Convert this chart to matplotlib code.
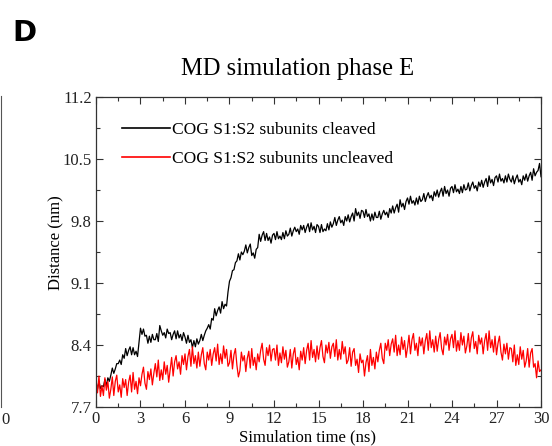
import numpy as np
import matplotlib
matplotlib.use("Agg")
import matplotlib.pyplot as plt
from matplotlib.lines import Line2D
from matplotlib.ticker import MultipleLocator

plt.rcParams["font.family"] = ["Liberation Serif", "DejaVu Serif"]

# time axis: 0 .. 30 ns, one sample every 0.1 ns
time_ns = np.round(np.arange(0, 301) * 0.1, 1)

# COG distance, S1:S2 subunits cleaved (nm) (one row per ns)
cleaved = [
    7.97, 7.90, 7.99, 7.91, 7.94, 7.93, 8.01, 7.94, 8.03, 7.99,
    8.06, 8.14, 8.08, 8.13, 8.19, 8.19, 8.23, 8.18, 8.29, 8.25,
    8.36, 8.28, 8.34, 8.38, 8.29, 8.37, 8.29, 8.33, 8.27, 8.43,
    8.59, 8.52, 8.58, 8.50, 8.51, 8.42, 8.50, 8.43, 8.52, 8.46,
    8.46, 8.53, 8.44, 8.62, 8.56, 8.51, 8.54, 8.48, 8.58, 8.53,
    8.54, 8.46, 8.52, 8.56, 8.47, 8.56, 8.48, 8.52, 8.45, 8.54,
    8.49, 8.42, 8.51, 8.43, 8.46, 8.37, 8.45, 8.38, 8.47, 8.41,
    8.45, 8.52, 8.45, 8.51, 8.56, 8.59, 8.63, 8.58, 8.70, 8.68,
    8.81, 8.73, 8.79, 8.83, 8.76, 8.89, 8.81, 8.86, 8.84, 9.00,
    9.12, 9.16, 9.24, 9.25, 9.33, 9.35, 9.43, 9.36, 9.45, 9.42,
    9.46, 9.53, 9.44, 9.50, 9.54, 9.41, 9.44, 9.38, 9.48, 9.50,
    9.65, 9.57, 9.64, 9.68, 9.58, 9.66, 9.58, 9.62, 9.55, 9.64,
    9.66, 9.59, 9.68, 9.60, 9.63, 9.59, 9.67, 9.60, 9.69, 9.63,
    9.65, 9.72, 9.63, 9.69, 9.73, 9.68, 9.71, 9.65, 9.75, 9.70,
    9.75, 9.67, 9.73, 9.77, 9.68, 9.78, 9.70, 9.74, 9.67, 9.76,
    9.74, 9.67, 9.76, 9.68, 9.71, 9.69, 9.77, 9.70, 9.79, 9.73,
    9.77, 9.84, 9.75, 9.81, 9.85, 9.78, 9.81, 9.75, 9.85, 9.80,
    9.87, 9.79, 9.85, 9.89, 9.80, 9.94, 9.86, 9.90, 9.83, 9.92,
    9.91, 9.84, 9.93, 9.85, 9.88, 9.80, 9.88, 9.81, 9.90, 9.84,
    9.84, 9.91, 9.82, 9.88, 9.92, 9.87, 9.90, 9.84, 9.94, 9.89,
    9.97, 9.89, 9.95, 9.99, 9.90, 10.04, 9.96, 10.00, 9.93, 10.02,
    10.06, 9.99, 10.08, 10.00, 10.03, 9.98, 10.06, 9.99, 10.08, 10.02,
    10.04, 10.11, 10.02, 10.08, 10.12, 10.06, 10.09, 10.03, 10.13, 10.08,
    10.15, 10.07, 10.13, 10.17, 10.08, 10.19, 10.11, 10.15, 10.08, 10.17,
    10.19, 10.12, 10.21, 10.13, 10.16, 10.11, 10.19, 10.12, 10.21, 10.15,
    10.16, 10.23, 10.14, 10.20, 10.24, 10.17, 10.20, 10.14, 10.24, 10.19,
    10.26, 10.18, 10.24, 10.28, 10.19, 10.31, 10.23, 10.27, 10.20, 10.29,
    10.31, 10.24, 10.33, 10.25, 10.28, 10.23, 10.31, 10.24, 10.33, 10.27,
    10.24, 10.31, 10.22, 10.28, 10.32, 10.24, 10.27, 10.21, 10.31, 10.26,
    10.33, 10.25, 10.31, 10.35, 10.26, 10.39, 10.31, 10.35, 10.37, 10.45,
    10.30,
]

# COG distance, S1:S2 subunits uncleaved (nm)
uncleaved = [
    8.01, 7.86, 8.05, 7.82, 7.94, 7.83, 8.03, 7.89, 7.99, 7.80,
    7.90, 8.04, 7.83, 7.99, 8.06, 7.87, 7.95, 7.81, 8.02, 7.92,
    8.01, 7.83, 7.98, 8.06, 7.87, 8.09, 7.90, 7.99, 7.85, 8.03,
    7.94, 8.07, 8.15, 7.97, 7.90, 8.10, 8.01, 8.13, 7.95, 8.08,
    8.19, 8.04, 8.23, 8.00, 8.12, 8.01, 8.21, 8.07, 8.17, 7.98,
    8.12, 8.26, 8.05, 8.21, 8.28, 8.13, 8.21, 8.07, 8.28, 8.18,
    8.30, 8.12, 8.27, 8.35, 8.16, 8.38, 8.19, 8.28, 8.14, 8.32,
    8.16, 8.29, 8.37, 8.19, 8.12, 8.32, 8.23, 8.35, 8.17, 8.30,
    8.37, 8.22, 8.41, 8.18, 8.30, 8.19, 8.39, 8.25, 8.35, 8.16,
    8.20, 8.34, 8.13, 8.29, 8.36, 8.17, 8.04, 8.11, 8.32, 8.22,
    8.28, 8.10, 8.25, 8.33, 8.14, 8.36, 8.17, 8.26, 8.12, 8.30,
    8.21, 8.34, 8.42, 8.24, 8.17, 8.37, 8.28, 8.40, 8.22, 8.35,
    8.36, 8.23, 8.40, 8.17, 8.31, 8.20, 8.38, 8.24, 8.34, 8.15,
    8.21, 8.35, 8.14, 8.30, 8.37, 8.18, 8.26, 8.12, 8.33, 8.23,
    8.37, 8.19, 8.34, 8.42, 8.23, 8.45, 8.26, 8.35, 8.21, 8.39,
    8.24, 8.37, 8.45, 8.27, 8.20, 8.40, 8.31, 8.43, 8.25, 8.38,
    8.42, 8.27, 8.46, 8.23, 8.35, 8.24, 8.44, 8.30, 8.38, 8.19,
    8.23, 8.37, 8.16, 8.32, 8.36, 8.17, 8.24, 8.09, 8.30, 8.20,
    8.23, 8.05, 8.20, 8.28, 8.10, 8.35, 8.17, 8.26, 8.13, 8.32,
    8.21, 8.34, 8.42, 8.25, 8.19, 8.42, 8.34, 8.46, 8.28, 8.41,
    8.47, 8.32, 8.51, 8.28, 8.40, 8.29, 8.49, 8.35, 8.45, 8.26,
    8.37, 8.51, 8.30, 8.46, 8.53, 8.34, 8.42, 8.28, 8.49, 8.39,
    8.48, 8.30, 8.45, 8.53, 8.34, 8.56, 8.37, 8.46, 8.32, 8.50,
    8.33, 8.46, 8.54, 8.36, 8.29, 8.49, 8.40, 8.52, 8.34, 8.47,
    8.52, 8.37, 8.56, 8.33, 8.45, 8.34, 8.54, 8.40, 8.50, 8.31,
    8.39, 8.53, 8.32, 8.48, 8.55, 8.36, 8.44, 8.30, 8.51, 8.41,
    8.48, 8.30, 8.45, 8.53, 8.34, 8.56, 8.37, 8.46, 8.32, 8.50,
    8.29, 8.42, 8.50, 8.32, 8.23, 8.41, 8.30, 8.42, 8.24, 8.37,
    8.36, 8.21, 8.40, 8.17, 8.29, 8.18, 8.38, 8.24, 8.34, 8.15,
    8.22, 8.36, 8.15, 8.31, 8.36, 8.15, 8.19, 8.03, 8.22, 8.10,
    8.12,
]

labels = ["COG S1:S2 subunits cleaved", "COG S1:S2 subunits uncleaved"]
colors = ["black", "#ff0000"]

fig = plt.figure(figsize=(5.52, 4.46), dpi=100)
ax = fig.add_axes([0.1739, 0.0874, 0.8062, 0.6951])

for series, label, color in zip([cleaved, uncleaved], labels, colors):
    ax.plot(time_ns, series, color=color, linewidth=0.9, label=label)

ax.set_xlim(0, 30)
ax.set_ylim(7.7, 11.2)
ax.xaxis.set_major_locator(MultipleLocator(3))
ax.xaxis.set_minor_locator(MultipleLocator(1.5))
ax.yaxis.set_minor_locator(MultipleLocator(0.35))
ax.set_yticks([7.7, 8.4, 9.1, 9.8, 10.5, 11.2])
ax.set_yticklabels(["7.7", "8.4", "9.1", "9.8", "10.5", "11.2"])

spine_color = "#333333"
for s in ax.spines.values():
    s.set_color(spine_color)
    s.set_linewidth(0.9)
ax.tick_params(which="both", direction="in", top=True, right=True,
               colors=spine_color, labelcolor="#222222", labelsize=12)
ax.tick_params(which="major", length=5, width=0.8, pad=3)
ax.tick_params(which="minor", length=3, width=0.8)

ax.set_xlabel("Simulation time (ns)", fontsize=12)
ax.set_ylabel("Distance (nm)", fontsize=12)
ax.xaxis.set_label_coords(0.476, -0.072)
ax.yaxis.set_label_coords(-0.072, 0.529)
ax.set_title("MD simulation phase E", fontsize=17.7, pad=16, x=0.452)

leg = ax.legend(loc="upper left", bbox_to_anchor=(0.058, 0.921), frameon=False,
                fontsize=12.6, handlelength=2.74, handletextpad=0.1,
                labelspacing=0.76, borderpad=0, borderaxespad=0)
for h in leg.get_lines():
    h.set_linewidth(1.2)

# panel letter and the cut-off edge of the neighbouring panel
fig.text(0.045, 0.926, "D", fontsize=21, fontweight="bold",
         family=["DejaVu Sans"], va="center", ha="center")
fig.add_artist(Line2D([0.002, 0.002], [0.0874, 0.785], color="#555555",
                      linewidth=0.8, transform=fig.transFigure))
fig.text(0.002, 0.05, "0", fontsize=12, color="#222222")

fig.savefig("out.png", dpi=100)
